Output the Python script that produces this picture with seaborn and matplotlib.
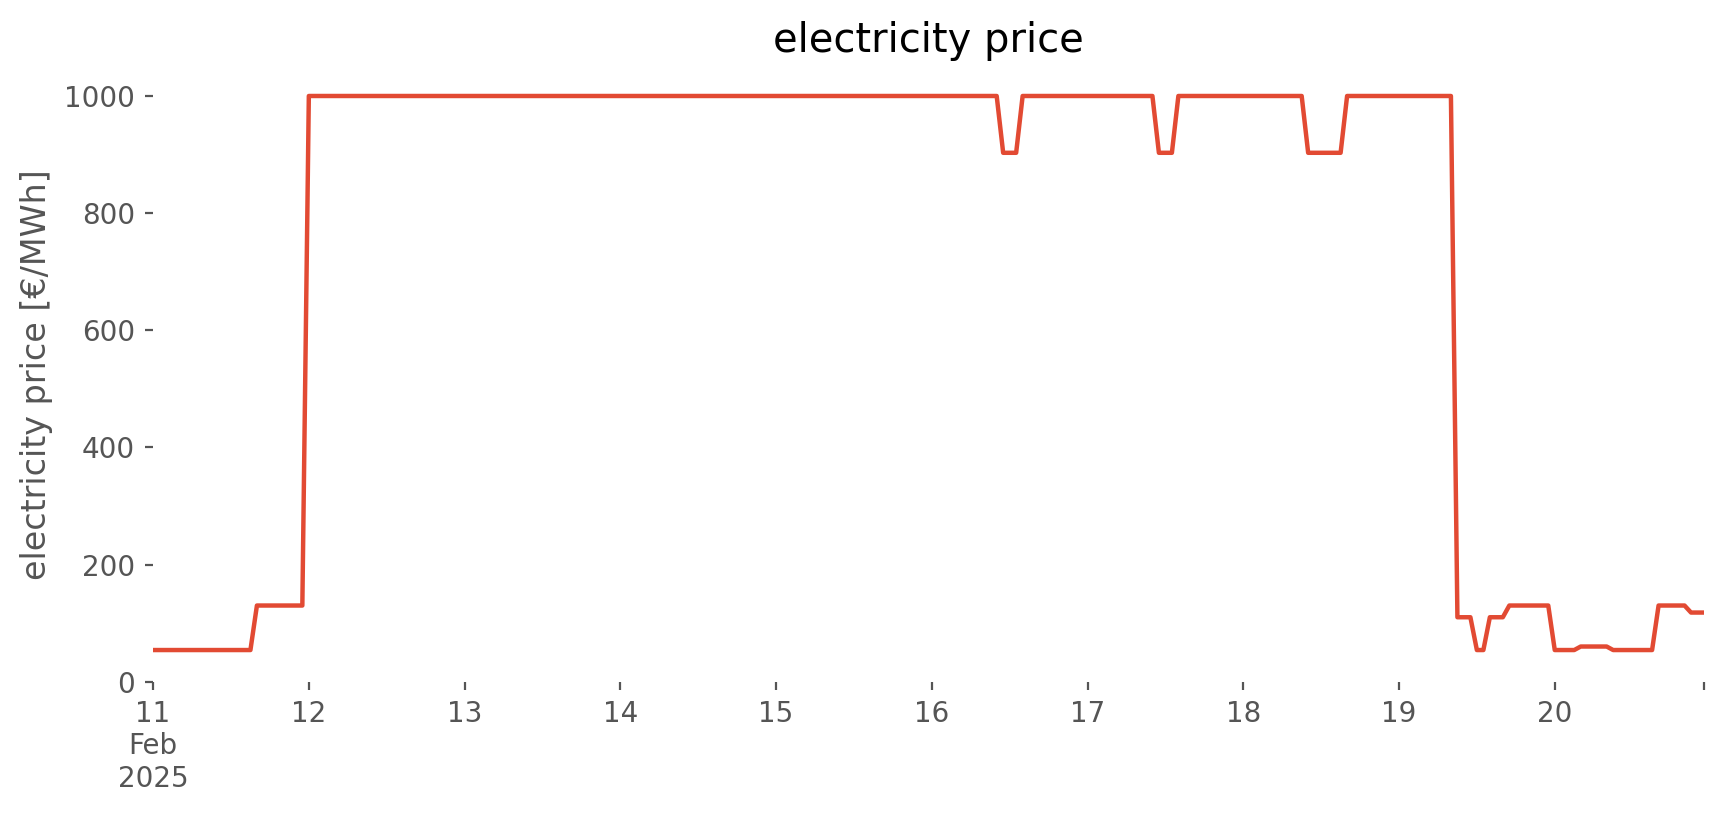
import numpy as np
import pandas as pd
import matplotlib
matplotlib.use("Agg")
import matplotlib.pyplot as plt
import seaborn as sns

# hourly price levels, as (price, number of hours)
price_levels = [54, 130, 1000, 903, 1000, 903, 1000, 903, 1000,
                110, 54, 110, 130, 54, 60, 54, 130, 118]
level_hours = [16, 8, 107, 3, 21, 3, 20, 6, 17,
               3, 2, 3, 7, 4, 5, 7, 5, 3]
start_time = "2025-02-11 00:00"

tick_days = ["2025-02-11 00:00", "2025-02-12 00:00", "2025-02-13 00:00", "2025-02-14 00:00",
             "2025-02-15 00:00", "2025-02-16 00:00", "2025-02-17 00:00", "2025-02-18 00:00",
             "2025-02-19 00:00", "2025-02-20 00:00", "2025-02-20 23:00"]
tick_labels = ["11\nFeb\n2025", "12", "13", "14", "15", "16", "17", "18", "19", "20", ""]
y_ticks = [0, 200, 400, 600, 800, 1000]

prices = np.repeat(price_levels, level_hours)
times = pd.date_range(start_time, periods=len(prices), freq="h")
df = pd.DataFrame({"time": times, "price": prices})

sns.set_style("white")
plt.rcParams["font.family"] = ["DejaVu Sans"]

fig = plt.figure(figsize=(8.62, 4.075), dpi=200)
ax = fig.add_axes([0.0888, 0.1636, 0.8996, 0.7524])
sns.lineplot(data=df, x="time", y="price", ax=ax, color="#E24A33", linewidth=1.6)

for s in ax.spines.values():
    s.set_visible(False)

ax.set_xlim(times[0], times[-1])
ax.set_ylim(0, 1047)
ax.set_yticks(y_ticks)
ax.set_xticks(pd.to_datetime(tick_days, format="%Y-%m-%d %H:%M"))
ax.set_xticklabels(tick_labels)
ax.tick_params(axis="both", colors="#555555", labelcolor="#555555", labelsize=10,
               length=3, width=0.8, direction="out", left=True, bottom=True)
ax.set_xlabel("")
ax.set_ylabel("electricity price [€/MWh]", fontsize=12, color="#555555")
ax.set_title("electricity price", fontsize=14.4, color="black", pad=6)

fig.savefig("out.png", dpi=200)
